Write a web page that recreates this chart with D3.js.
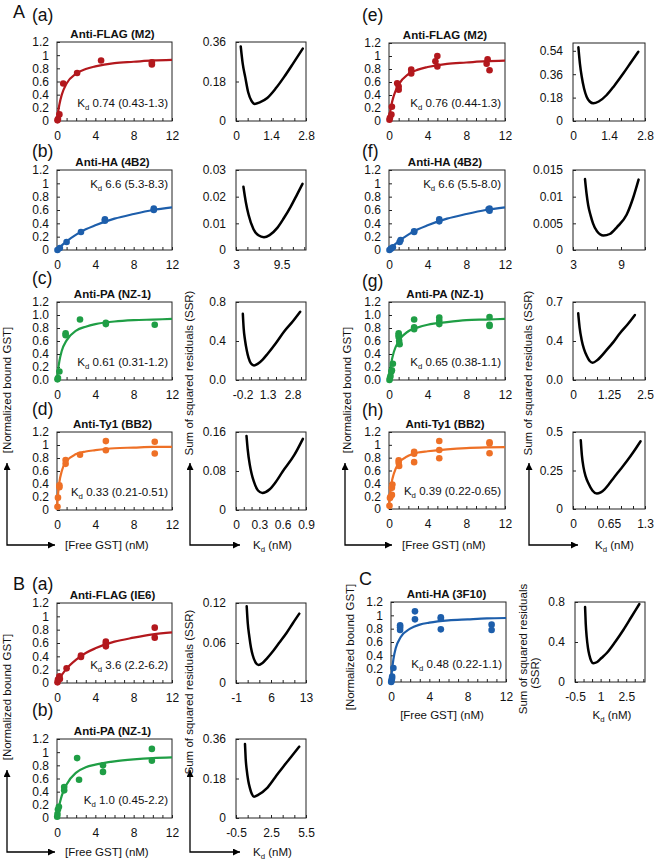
<!DOCTYPE html>
<html>
<head>
<meta charset="utf-8">
<script src="https://cdn.jsdelivr.net/npm/d3@7"></script>
<style>
	body{margin:0;background:#fff;}
	svg text{font-family:"Liberation Sans",Arial,Helvetica,sans-serif;fill:#111;}
</style>
</head>
<body>
<svg id="fig" width="656" height="860"></svg>
<script>
// ---------- data ----------

// [Free GST] axis of the binding panels
var freeTicks = [0, 4, 8, 12];
var freeMinor = d3.range(0, 13, 1);
var boundTicks = [0, 0.2, 0.4, 0.6, 0.8, 1, 1.2];
var boundLabels = ['0', '0.2', '0.4', '0.6', '0.8', '1', '1.2'];
var boundLabels1 = ['0.0', '0.2', '0.4', '0.6', '0.8', '1.0', '1.2'];

var titles = ['Anti-FLAG (M2)', 'Anti-HA (4B2)', 'Anti-PA (NZ-1)', 'Anti-Ty1 (BB2)',
	'Anti-FLAG (M2)', 'Anti-HA (4B2)', 'Anti-PA (NZ-1)', 'Anti-Ty1 (BB2)',
	'Anti-FLAG (IE6)', 'Anti-PA (NZ-1)', 'Anti-HA (3F10)'];
var kdValues = ['0.74 (0.43-1.3)', '6.6 (5.3-8.3)', '0.61 (0.31-1.2)', '0.33 (0.21-0.51)',
	'0.76 (0.44-1.3)', '6.6 (5.5-8.0)', '0.65 (0.38-1.1)', '0.39 (0.22-0.65)',
	'3.6 (2.2-6.2)', '1.0 (0.45-2.2)', '0.48 (0.22-1.1)'];
var letters = ['(a)', '(b)', '(c)', '(d)', '(e)', '(f)', '(g)', '(h)', '(a)', '(b)', ''];

// fitted curves, sampled at fitX
var fitX = [0, 0.1, 0.25, 0.5, 1, 2, 3, 4, 6, 8, 10, 12];
var fitAa = [0, 0.12, 0.25, 0.40, 0.57, 0.72, 0.79, 0.83, 0.88, 0.90, 0.92, 0.93];
var fitAb = [0, 0.015, 0.036, 0.07, 0.13, 0.23, 0.31, 0.37, 0.47, 0.54, 0.60, 0.64];
var fitAc = [0, 0.14, 0.29, 0.45, 0.61, 0.76, 0.82, 0.86, 0.90, 0.92, 0.93, 0.94];
var fitAd = [0, 0.23, 0.43, 0.60, 0.75, 0.86, 0.90, 0.92, 0.95, 0.96, 0.97, 0.97];
var fitAe = [0, 0.115, 0.245, 0.39, 0.56, 0.72, 0.79, 0.83, 0.88, 0.90, 0.92, 0.93];
var fitAf = [0, 0.015, 0.036, 0.07, 0.13, 0.23, 0.31, 0.37, 0.47, 0.54, 0.60, 0.64];
var fitAg = [0, 0.13, 0.275, 0.43, 0.60, 0.75, 0.81, 0.85, 0.89, 0.92, 0.93, 0.94];
var fitAh = [0, 0.20, 0.39, 0.55, 0.71, 0.83, 0.88, 0.90, 0.93, 0.95, 0.96, 0.965];
var fitBa = [0, 0.027, 0.065, 0.12, 0.215, 0.35, 0.45, 0.52, 0.62, 0.68, 0.73, 0.76];
var fitBb = [0, 0.09, 0.20, 0.34, 0.51, 0.69, 0.77, 0.81, 0.86, 0.89, 0.91, 0.92];
var fitC = [0, 0.17, 0.34, 0.51, 0.67, 0.80, 0.86, 0.89, 0.925, 0.94, 0.954, 0.96];

// measured points [free GST, normalized bound GST]
var ptsAa = [[0.05,0.01],[0.1,0.03],[0.25,0.1],[0.65,0.57],[2.1,0.73],[4.6,0.92],[9.9,0.86],[9.9,0.89]];
var ptsAb = [[0.05,0.0],[0.3,0.03],[1.0,0.12],[2.5,0.27],[5.0,0.46],[5.0,0.44],[10.1,0.60],[10.1,0.62]];
var ptsAc = [[0.05,0.01],[0.1,0.03],[0.25,0.13],[0.9,0.72],[0.9,0.69],[2.4,0.93],[5.1,0.88],[5.1,0.86],[10.2,0.85]];
var ptsAd = [[0.05,0.05],[0.1,0.19],[0.25,0.38],[0.25,0.35],[0.9,0.77],[0.9,0.71],[2.4,0.85],[5.1,1.06],[5.1,0.92],[10.2,1.05],[10.2,0.87]];
var ptsAe = [[0.05,0.02],[0.1,0.05],[0.25,0.1],[0.3,0.22],[0.85,0.58],[1.0,0.53],[1.0,0.48],[2.3,0.79],[2.3,0.73],[4.8,0.92],[5.0,1.0],[5.0,0.84],[10.1,0.88],[10.2,0.95],[10.4,0.78]];
var ptsAf = [[0.05,0.0],[0.2,0.02],[0.4,0.04],[1.1,0.12],[1.2,0.15],[2.6,0.28],[2.6,0.27],[5.2,0.43],[5.2,0.46],[10.4,0.59],[10.4,0.62],[10.3,0.61]];
var ptsAg = [[0.05,0.0],[0.1,0.03],[0.15,0.06],[0.25,0.13],[0.3,0.15],[0.4,0.25],[1.0,0.72],[1.0,0.69],[1.0,0.66],[1.05,0.6],[1.1,0.55],[2.6,0.93],[2.6,0.81],[2.6,0.78],[5.2,0.96],[5.2,0.91],[5.2,0.86],[10.4,0.97],[10.4,0.85],[10.4,0.83]];
var ptsAh = [[0.05,0.05],[0.1,0.17],[0.15,0.19],[0.3,0.33],[0.35,0.38],[0.3,0.22],[1.0,0.76],[1.0,0.72],[1.05,0.67],[2.6,0.89],[2.6,0.86],[2.6,0.73],[5.2,1.06],[5.2,0.92],[5.2,0.79],[10.4,1.04],[10.4,1.02],[10.4,0.87]];
var ptsBa = [[0.05,0.01],[0.1,0.05],[0.25,0.1],[0.3,0.06],[1.0,0.22],[2.5,0.41],[2.5,0.39],[5.1,0.62],[5.1,0.59],[5.1,0.55],[10.2,0.83],[10.2,0.68]];
var ptsBb = [[0.02,0.02],[0.05,0.06],[0.1,0.13],[0.2,0.17],[0.75,0.47],[0.75,0.42],[2.1,0.91],[2.3,0.58],[4.8,0.8],[4.8,0.7],[9.9,1.05],[9.9,0.87]];
var ptsC = [[0.02,0.0],[0.05,0.02],[0.1,0.05],[0.12,0.08],[0.25,0.21],[0.95,0.85],[0.95,0.82],[0.95,0.78],[2.5,1.06],[2.5,0.94],[5.2,0.97],[5.2,0.95],[5.2,0.79],[10.5,0.86],[10.5,0.78]];

// sum of squared residuals curves [Kd, SSR]
var ssrAa = [[0.19,0.34],[0.27,0.26],[0.37,0.20],[0.49,0.13],[0.62,0.092],[0.75,0.078],[0.95,0.085],[1.25,0.105],[1.6,0.15],[1.92,0.20],[2.3,0.265],[2.67,0.33]];
var ssrAb = [[4.06,0.0237],[4.4,0.018],[4.8,0.0131],[5.5,0.0078],[6.2,0.0055],[7.0,0.0048],[7.8,0.0056],[8.9,0.0083],[9.8,0.0118],[10.8,0.0162],[11.7,0.0207],[12.5,0.0248]];
var ssrAc = [[-0.19,0.68],[-0.14,0.53],[-0.06,0.41],[0.05,0.3],[0.15,0.23],[0.3,0.17],[0.48,0.15],[0.7,0.165],[1.0,0.21],[1.3,0.27],[1.8,0.38],[2.3,0.5],[2.8,0.6],[3.25,0.70]];
var ssrAd = [[0.135,0.152],[0.15,0.125],[0.177,0.093],[0.2,0.075],[0.228,0.059],[0.283,0.04],[0.34,0.035],[0.43,0.042],[0.5,0.055],[0.6,0.079],[0.75,0.113],[0.86,0.146]];
var ssrAe = [[0.21,0.567],[0.27,0.44],[0.34,0.34],[0.43,0.25],[0.53,0.187],[0.65,0.15],[0.79,0.136],[1.0,0.15],[1.31,0.2],[1.6,0.27],[1.96,0.367],[2.25,0.45],[2.54,0.533]];
var ssrAf = [[4.5,0.0133],[4.7,0.0105],[4.9,0.0084],[5.2,0.0065],[5.5,0.005],[6.0,0.0035],[6.8,0.0027],[7.6,0.003],[8.5,0.0043],[9.7,0.0066],[10.5,0.0097],[11.2,0.0132]];
var ssrAg = [[0.18,0.6],[0.23,0.47],[0.3,0.36],[0.38,0.28],[0.48,0.215],[0.58,0.17],[0.68,0.155],[0.85,0.18],[1.17,0.27],[1.4,0.34],[1.63,0.42],[1.9,0.5],[2.15,0.583]];
var ssrAh = [[0.14,0.447],[0.16,0.35],[0.19,0.27],[0.23,0.21],[0.28,0.165],[0.35,0.12],[0.43,0.1],[0.5,0.108],[0.57,0.128],[0.65,0.162],[0.73,0.2],[0.85,0.255],[0.97,0.31],[1.1,0.375],[1.22,0.44]];
var ssrBa = [[1.14,0.115],[1.35,0.09],[1.66,0.07],[2.0,0.053],[2.33,0.042],[2.9,0.031],[3.5,0.027],[4.3,0.03],[5.2,0.037],[6.1,0.045],[7.6,0.06],[9.1,0.075],[10.4,0.09],[11.66,0.104]];
var ssrBb = [[0.27,0.337],[0.33,0.27],[0.42,0.219],[0.55,0.17],[0.7,0.135],[0.85,0.11],[1.04,0.097],[1.4,0.105],[2.13,0.135],[2.85,0.185],[3.55,0.234],[4.25,0.28],[4.92,0.325]];
var ssrC = [[0.09,0.75],[0.13,0.58],[0.185,0.45],[0.26,0.34],[0.34,0.27],[0.45,0.21],[0.57,0.187],[0.8,0.2],[1.05,0.24],[1.36,0.29],[1.85,0.4],[2.33,0.52],[2.8,0.65],[3.27,0.78]];

// SSR axis ticks / labels
var sxtAa = [0, 1.4, 2.8], sytAa = [0, 0.18, 0.36], sylAa = ['0', '0.18', '0.36'];
var sxtAb = [3, 9.5], sytAb = [0, 0.01, 0.02, 0.03], sylAb = ['0', '0.01', '0.02', '0.03'];
var sxtAc = [-0.2, 1.3, 2.8], sytAc = [0, 0.4, 0.8], sylAc = ['0.0', '0.4', '0.8'];
var sxtAd = [0, 0.3, 0.6, 0.9], sytAd = [0, 0.08, 0.16], sylAd = ['0', '0.08', '0.16'];
var sxtAe = [0, 1.4, 2.8], sytAe = [0, 0.18, 0.36, 0.54], sylAe = ['0', '0.18', '0.36', '0.54'];
var sxtAf = [3, 9], sytAf = [0, 0.005, 0.01, 0.015], sylAf = ['0', '0.005', '0.01', '0.015'];
var sxtAg = [0, 1.25, 2.5], sytAg = [0, 0.35, 0.7], sylAg = ['0.0', '0.4', '0.7'];
var sxtAh = [0, 0.65, 1.3], sytAh = [0, 0.25, 0.5], sylAh = ['0', '0.25', '0.5'];
var sxtBa = [-1, 6, 13], sytBa = [0, 0.06, 0.12], sylBa = ['0', '0.06', '0.12'];
var sxtBb = [-0.5, 2.5, 5.5], sytBb = [0, 0.18, 0.36], sylBb = ['0', '0.18', '0.36'];
var sxtC = [-0.5, 1, 2.5], sytC = [0, 0.4, 0.8], sylC = ['0', '0.4', '0.8'];

// ---------- layout ----------
var FONT = '"Liberation Sans", Arial, Helvetica, sans-serif';
var RED = '#b3181d', BLUE = '#1d5eab', GREEN = '#1f9e45', ORANGE = '#ee7026';

var cols = {
	L: {fit: [57, 172], ssr: [236, 306]},
	R: {fit: [389, 505], ssr: [573, 645]},
	C: {fit: [391, 506], ssr: [575, 645]}
};

var panels = [
	{i:0, col:'L', y:[42,121], ly:21, lx:32, c:RED, pts:ptsAa, fit:fitAa, top:false, yl:boundLabels, ssr:ssrAa, sx:[0,2.8], sxt:sxtAa, sxm:1.4/3, sy:[0,0.36], syt:sytAa, syl:sylAa},
	{i:1, col:'L', y:[170,250], ly:157, lx:32, c:BLUE, pts:ptsAb, fit:fitAb, top:true, yl:boundLabels, ssr:ssrAb, sx:[3,13], sxt:sxtAb, sxm:1.625, sy:[0,0.03], syt:sytAb, syl:sylAb},
	{i:2, col:'L', y:[302,380], ly:284, lx:32, c:GREEN, pts:ptsAc, fit:fitAc, top:false, yl:boundLabels1, ssr:ssrAc, sx:[-0.6,3.6], sxt:sxtAc, sxm:0.5, sy:[0,0.8], syt:sytAc, syl:sylAc},
	{i:3, col:'L', y:[432,510], ly:415, lx:32, c:ORANGE, pts:ptsAd, fit:fitAd, top:false, yl:boundLabels, ssr:ssrAd, sx:[0,0.9], sxt:sxtAd, sxm:0.1, sy:[0,0.16], syt:sytAd, syl:sylAd},
	{i:4, col:'R', y:[43,121], ly:21, lx:362, c:RED, pts:ptsAe, fit:fitAe, top:false, yl:boundLabels, ssr:ssrAe, sx:[0,2.8], sxt:sxtAe, sxm:1.4/3, sy:[0,0.6], syt:sytAe, syl:sylAe},
	{i:5, col:'R', y:[170,250], ly:157, lx:362, c:BLUE, pts:ptsAf, fit:fitAf, top:true, yl:boundLabels, ssr:ssrAf, sx:[3,12], sxt:sxtAf, sxm:3, sy:[0,0.015], syt:sytAf, syl:sylAf},
	{i:6, col:'R', y:[302,380], ly:287, lx:362, c:GREEN, pts:ptsAg, fit:fitAg, top:false, yl:boundLabels1, ssr:ssrAg, sx:[0,2.5], sxt:sxtAg, sxm:1.25/3, sy:[0,0.7], syt:sytAg, syl:sylAg},
	{i:7, col:'R', y:[432,509], ly:416, lx:362, c:ORANGE, pts:ptsAh, fit:fitAh, top:false, yl:boundLabels, ssr:ssrAh, sx:[0,1.3], sxt:sxtAh, sxm:0.65/3, sy:[0,0.5], syt:sytAh, syl:sylAh},
	{i:8, col:'L', y:[603,683], ly:590, lx:32, c:RED, pts:ptsBa, fit:fitBa, top:false, yl:boundLabels, ssr:ssrBa, sx:[-1,13], sxt:sxtBa, sxm:7/3, sy:[0,0.12], syt:sytBa, syl:sylBa},
	{i:9, col:'L', y:[739,818], ly:716, lx:32, c:GREEN, pts:ptsBb, fit:fitBb, top:false, yl:boundLabels, ssr:ssrBb, sx:[-0.5,5.5], sxt:sxtBb, sxm:1, sy:[0,0.36], syt:sytBb, syl:sylBb},
	{i:10, col:'C', y:[602,682], ly:0, lx:0, c:BLUE, pts:ptsC, fit:fitC, top:false, yl:boundLabels, ssr:ssrC, sx:[-0.5,3.6], sxt:sxtC, sxm:0.5, sy:[0,0.8], syt:sytC, syl:sylC}
];

var svg = d3.select('#fig');

var defs = svg.append('defs');
defs.append('marker')
	.attr('id', 'arr')
	.attr('viewBox', '0 0 10 10')
	.attr('refX', 10).attr('refY', 5)
	.attr('markerWidth', 9).attr('markerHeight', 7)
	.attr('markerUnits', 'userSpaceOnUse')
	.attr('orient', 'auto-start-reverse')
	.append('path').attr('d', 'M0,0 L10,5 L0,10 z').attr('fill', '#000');

function clean(sel){
	sel.select('.domain').remove();
	sel.attr('font-family', FONT).attr('font-size', 12).attr('color', '#222');
	sel.selectAll('text').attr('fill', '#111');
}

function kdText(g, x, y, rest, size){
	var t = g.append('text').attr('x', x).attr('y', y).attr('font-size', size);
	t.append('tspan').text('K');
	t.append('tspan').attr('dy', 3).attr('font-size', size * 0.68).text('d');
	t.append('tspan').attr('dy', -3).text('\u00a0' + rest);
	return t;
}

function minorTicks(dom, anchor, step){
	var out = [], k;
	for(k = anchor; k >= dom[0] - 1e-9; k -= step){ out.push(k); }
	for(k = anchor + step; k <= dom[1] + 1e-9; k += step){ out.push(k); }
	return out;
}

function drawFit(p){
	var cx = cols[p.col].fit;
	var x = d3.scaleLinear().domain([0, 12]).range(cx);
	var y = d3.scaleLinear().domain([0, 1.2]).range([p.y[1], p.y[0]]);
	var g = svg.append('g');

	g.append('text')
		.attr('x', (cx[0] + cx[1]) / 2 - 2).attr('y', p.y[0] - 4)
		.attr('text-anchor', 'middle').attr('font-weight', 'bold').attr('font-size', 11.5)
		.text(titles[p.i]);

	g.append('g').attr('transform', 'translate(0,' + p.y[1] + ')')
		.call(d3.axisBottom(x).tickValues(freeMinor).tickSize(-3).tickPadding(10)
			.tickFormat(function(d){ return freeTicks.indexOf(d) >= 0 ? d : ''; }))
		.call(clean);
	g.append('g').attr('transform', 'translate(' + cx[0] + ',0)')
		.call(d3.axisLeft(y).tickValues(boundTicks).tickSize(-3).tickPadding(8)
			.tickFormat(function(d, i){ return p.yl[i]; }))
		.call(clean);

	g.append('rect')
		.attr('x', cx[0]).attr('y', p.y[0])
		.attr('width', cx[1] - cx[0]).attr('height', p.y[1] - p.y[0])
		.attr('fill', 'none').attr('stroke', '#222').attr('stroke-width', 1);

	var line = d3.line()
		.x(function(d){ return x(d[0]); })
		.y(function(d){ return y(d[1]); })
		.curve(d3.curveMonotoneX);
	g.append('path')
		.datum(fitX.map(function(v, k){ return [v, p.fit[k]]; }))
		.attr('d', line)
		.attr('fill', 'none').attr('stroke', p.c).attr('stroke-width', 2.2);

	g.selectAll('circle.pt').data(p.pts).enter().append('circle')
		.classed('pt', true)
		.attr('cx', function(d){ return x(d[0]); })
		.attr('cy', function(d){ return y(d[1]); })
		.attr('r', 3.3)
		.attr('fill', p.c);

	kdText(g, cx[1] - 4, p.top ? p.y[0] + 18 : p.y[1] - 14, kdValues[p.i], 11.5)
		.attr('text-anchor', 'end');

	if(letters[p.i]){
		g.append('text').attr('x', p.lx).attr('y', p.ly)
			.attr('font-size', 17.5).text(letters[p.i]);
	}
}

function drawSSR(p){
	var cx = cols[p.col].ssr;
	var x = d3.scaleLinear().domain(p.sx).range(cx);
	var y = d3.scaleLinear().domain(p.sy).range([p.y[1], p.y[0]]);
	var g = svg.append('g');

	g.append('g').attr('transform', 'translate(0,' + p.y[1] + ')')
		.call(d3.axisBottom(x).tickValues(minorTicks(p.sx, p.sxt[0], p.sxm)).tickSize(-3).tickFormat(''))
		.call(clean);
	g.append('g').attr('transform', 'translate(0,' + p.y[1] + ')')
		.call(d3.axisBottom(x).tickValues(p.sxt).tickSize(0).tickPadding(10)
			.tickFormat(function(d){ return String(d); }))
		.call(clean);
	g.append('g').attr('transform', 'translate(' + cx[0] + ',0)')
		.call(d3.axisLeft(y).tickValues(p.syt).tickSize(-3).tickPadding(10)
			.tickFormat(function(d, i){ return p.syl[i]; }))
		.call(clean);

	g.append('rect')
		.attr('x', cx[0]).attr('y', p.y[0])
		.attr('width', cx[1] - cx[0]).attr('height', p.y[1] - p.y[0])
		.attr('fill', 'none').attr('stroke', '#222').attr('stroke-width', 1);

	var line = d3.line()
		.x(function(d){ return x(d[0]); })
		.y(function(d){ return y(d[1]); })
		.curve(d3.curveMonotoneX);
	g.append('path')
		.datum(p.ssr)
		.attr('d', line)
		.attr('fill', 'none').attr('stroke', '#000')
		.attr('stroke-width', 2.5).attr('stroke-linejoin', 'round').attr('stroke-linecap', 'round');
}

panels.forEach(function(p){ drawFit(p); drawSSR(p); });

// section letters
[['A', 13, 18], ['B', 13, 590], ['C', 359, 585]].forEach(function(s){
	svg.append('text').attr('x', s[1]).attr('y', s[2]).attr('font-size', 18).text(s[0]);
});

// L-shaped arrows with axis captions
function arrows(xl, xr, yTop, yBase, tipL, tipR, capL, capR){
	[[xl, tipL], [xr, tipR]].forEach(function(a){
		svg.append('path')
			.attr('d', 'M' + a[0] + ',' + yTop + ' L' + a[0] + ',' + yBase + ' L' + a[1] + ',' + yBase)
			.attr('fill', 'none').attr('stroke', '#000').attr('stroke-width', 1.3)
			.attr('marker-start', 'url(#arr)').attr('marker-end', 'url(#arr)');
	});
	svg.append('text').attr('x', capL).attr('y', yBase + 4).attr('font-size', 11.5).text('[Free GST] (nM)');
	kdText(svg, capR, yBase + 4, '(nM)', 11.5);
}
arrows(7, 190, 463, 545, 55, 240, 65, 253);
arrows(345, 529, 463, 545, 392, 578, 402, 595);
arrows(7, 190, 770, 852, 55, 240, 65, 253);

// rotated y captions
function vlabel(x, y, txt){
	svg.append('text')
		.attr('transform', 'translate(' + x + ',' + y + ') rotate(-90)')
		.attr('text-anchor', 'middle').attr('font-size', 11.5)
		.text(txt);
}
vlabel(11, 390, '[Normalized bound GST]');
vlabel(193, 373, 'Sum of squared residuals (SSR)');
vlabel(351, 390, '[Normalized bound GST]');
vlabel(532, 373, 'Sum of squared residuals (SSR)');
vlabel(11, 697, '[Normalized bound GST]');
vlabel(193, 692, 'Sum of squared residuals (SSR)');
vlabel(354, 647, '[Normalized bound GST]');
vlabel(527, 649, 'Sum of squared residuals');
vlabel(539, 673, '(SSR)');

// panel C captions under the axes
svg.append('text').attr('x', 442).attr('y', 719).attr('text-anchor', 'middle')
	.attr('font-size', 11.5).text('[Free GST] (nM)');
kdText(svg, 612, 719, '(nM)', 11.5).attr('text-anchor', 'middle');
</script>
</body>
</html>
